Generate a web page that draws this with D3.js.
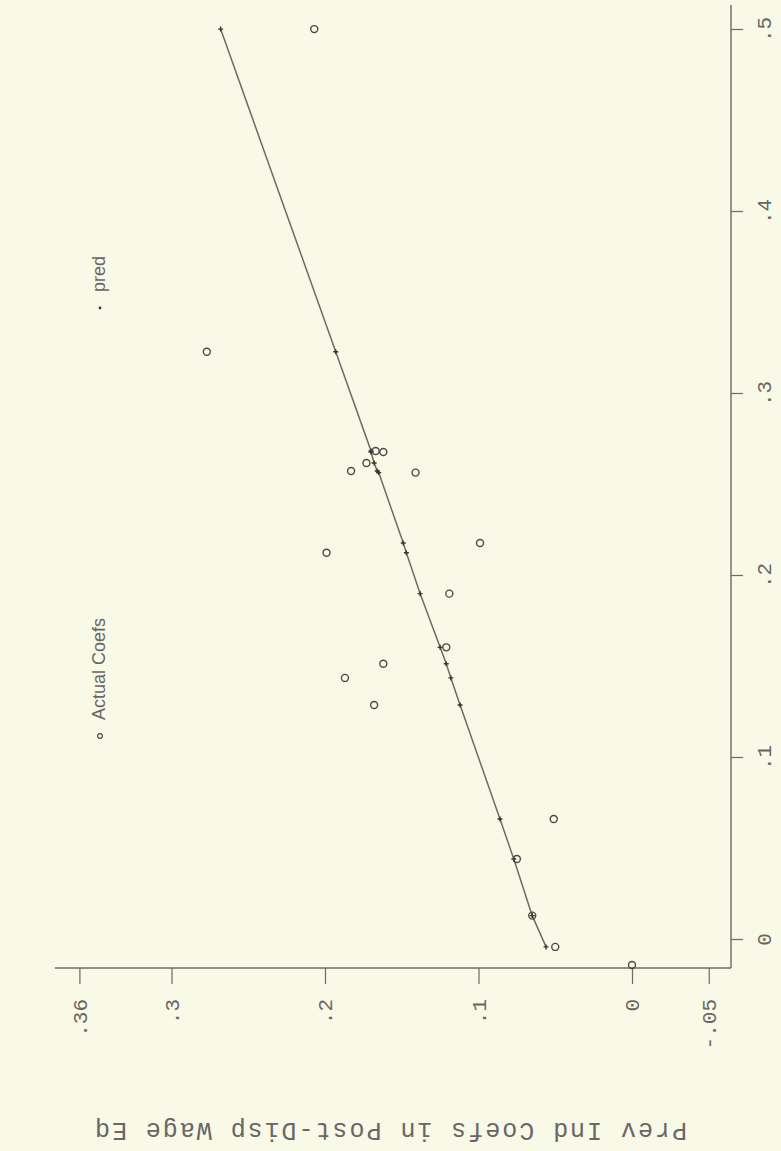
<!DOCTYPE html>
<meta charset="utf-8">
<style>
  body { margin: 0; background: #f8f9e7; }
  svg { display: block; }
  .axis text { font-family: "Liberation Mono", "DejaVu Sans Mono", monospace; fill: #6a6664; }
  .axis line, .axis path { stroke: #6e6a66; }
</style>
<script src="https://d3js.org/d3.v7.min.js"></script>
<div id="my_dataviz"></div>
<script>

// x: previous industry coefficient, actual: actual coefs, pred: fitted values
var xVals = [0.5005, 0.3232, 0.2687, 0.2681, 0.2621, 0.2577, 0.2568, 0.2128, 0.2181, 0.1903,
             0.1608, 0.1518, 0.1440, 0.1291, 0.0665, 0.0445, 0.0134, -0.0038, -0.0137];
var actualCoefs = [0.207, 0.277, 0.167, 0.162, 0.173, 0.183, 0.141, 0.199, 0.099, 0.119,
                   0.121, 0.162, 0.187, 0.168, 0.051, 0.075, 0.065, 0.050, 0.000];
var predVals = [0.268, 0.193, 0.170, 0.170, 0.168, 0.166, 0.165, 0.147, 0.149, 0.138,
                0.125, 0.121, 0.118, 0.112, 0.086, 0.077, 0.065, 0.056, null];

var xTicks = [0, 0.1, 0.2, 0.3, 0.4, 0.5];
var xTickLabels = ["0", ".1", ".2", ".3", ".4", ".5"];
var yTicks = [-0.05, 0, 0.1, 0.2, 0.3, 0.36];
var yTickLabels = ["-.05", "0", ".1", ".2", ".3", ".36"];
var legendLabels = ["Actual Coefs", "pred"];
var yTitle = "Prev Ind Coefs in Post-Disp Wage Eq";

// axis extents (data units)
var xExtent = [-0.0154, 0.5137];
var yExtent = [-0.0645, 0.376];

var pageW = 781, pageH = 1151;

var svg = d3.select("#my_dataviz")
  .append("svg")
    .attr("width", pageW)
    .attr("height", pageH);

svg.append("rect")
    .attr("width", pageW)
    .attr("height", pageH)
    .style("fill", "#f8f9e7");

// the scanned page is turned a quarter turn, so draw the chart upright and rotate it
var g = svg.append("g")
    .attr("transform", "translate(0,968) rotate(-90)");

var x = d3.scaleLinear().domain([0, 0.5]).range([28, 938]);
var y = d3.scaleLinear().domain([0, 0.1]).range([632, 478.5]);

var fontAxis = 21;

// left axis (values of coefs)
var yAxis = g.append("g")
    .attr("class", "axis")
    .call(d3.axisLeft(y).tickValues(yTicks)
      .tickFormat(function(d, i) { return yTickLabels[i]; })
      .tickSize(16).tickPadding(15).tickSizeOuter(0));
yAxis.select(".domain").remove();
yAxis.selectAll("text").style("font-size", fontAxis + "px");
yAxis.selectAll("line").style("stroke-width", 1.2);
g.append("line")
    .attr("x1", 0).attr("x2", 0)
    .attr("y1", y(yExtent[1])).attr("y2", y(yExtent[0]))
    .style("stroke", "#6e6a66").style("stroke-width", 1.4);

// bottom axis (previous industry coefs)
var xAxis = g.append("g")
    .attr("class", "axis")
    .attr("transform", "translate(0," + y(yExtent[0]) + ")")
    .call(d3.axisBottom(x).tickValues(xTicks)
      .tickFormat(function(d, i) { return xTickLabels[i]; })
      .tickSize(12).tickPadding(13).tickSizeOuter(0));
xAxis.select(".domain").remove();
xAxis.selectAll("text").style("font-size", fontAxis + "px");
xAxis.selectAll("line").style("stroke-width", 1.2);
g.append("line")
    .attr("x1", x(xExtent[0])).attr("x2", x(xExtent[1]))
    .attr("y1", y(yExtent[0])).attr("y2", y(yExtent[0]))
    .style("stroke", "#6e6a66").style("stroke-width", 1.4);

// y title
g.append("text")
    .attr("transform", "translate(-162," + ((y(yExtent[0]) + y(yExtent[1])) / 2 - 2) + ") rotate(-90)")
    .attr("text-anchor", "middle")
    .attr("dominant-baseline", "middle")
    .attr("textLength", 592)
    .attr("lengthAdjust", "spacing")
    .style("font-family", "Liberation Mono, DejaVu Sans Mono, monospace")
    .style("font-size", "25px")
    .style("fill", "#6a6664")
    .text(yTitle);

// data
var points = xVals.map(function(d, i) {
  return {x: d, actual: actualCoefs[i], pred: predVals[i]};
});
var predPts = points.filter(function(d) { return d.pred !== null; })
  .sort(function(a, b) { return a.x - b.x; });

var line = d3.line()
  .x(function(d) { return x(d.x); })
  .y(function(d) { return y(d.pred); });

g.append("path")
    .datum(predPts)
    .attr("d", line)
    .style("fill", "none")
    .style("stroke", "#6f6a68")
    .style("stroke-width", 1.5);

// pred markers
g.selectAll("predDots")
  .data(predPts)
  .enter()
  .append("path")
    .attr("d", function(d) {
      var px = x(d.x), py = y(d.pred);
      return "M" + (px - 2.5) + "," + py + "H" + (px + 2.5) + "M" + px + "," + (py - 2.5) + "V" + (py + 2.5);
    })
    .style("stroke", "#3a3432")
    .style("stroke-width", 1.4);

// actual coef circles
g.selectAll("actualDots")
  .data(points)
  .enter()
  .append("circle")
    .attr("cx", function(d) { return x(d.x); })
    .attr("cy", function(d) { return y(d.actual); })
    .attr("r", 3.5)
    .style("fill", "none")
    .style("stroke", "#4e4846")
    .style("stroke-width", 1.4);

// legend
var legend = g.append("g")
    .style("font-family", "Liberation Sans, Arial, sans-serif")
    .style("font-size", "18px")
    .style("fill", "#6a6664");

var legendPos = [232, 660];
legend.append("circle")
    .attr("cx", legendPos[0]).attr("cy", 100).attr("r", 2.4)
    .style("fill", "none").style("stroke", "#4e4846").style("stroke-width", 1.2);
legend.append("circle")
    .attr("cx", legendPos[1]).attr("cy", 100).attr("r", 1.4)
    .style("fill", "#3a3432");
legend.selectAll("legendText")
  .data(legendLabels)
  .enter()
  .append("text")
    .attr("x", function(d, i) { return legendPos[i] + 16; })
    .attr("y", 100)
    .attr("dominant-baseline", "middle")
    .text(function(d) { return d; });

</script>
